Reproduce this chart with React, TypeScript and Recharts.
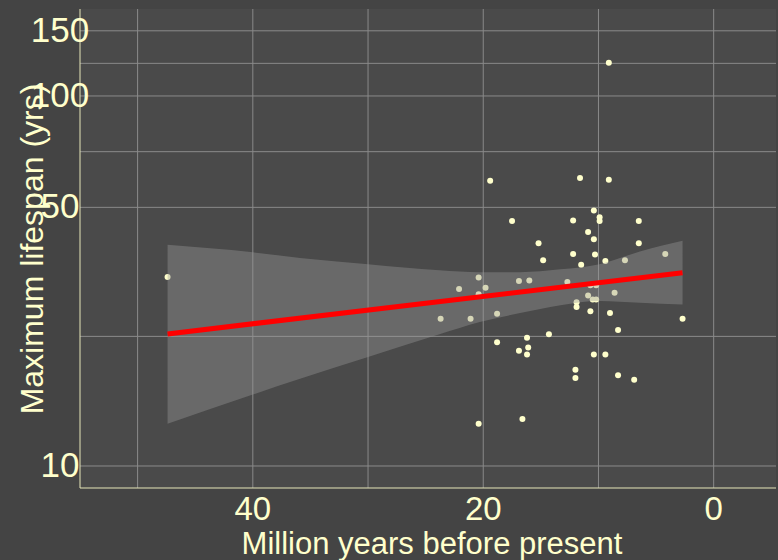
import { ComposedChart, Scatter, Area, Line, XAxis, YAxis, CartesianGrid, Label } from 'recharts'

// fossil ages (Myr before present) and max lifespan (yrs)
const ageMyr = [
  19.4, 11.6, 9.1, 17.5, 12.2, 10.4, 9.9, 9.9, 6.5, 10.9,
  10.4, 15.2, 6.5, 12.2, 10.3, 14.8, 11.5, 9.4, 7.7, 4.2,
  20.4, 22.1, 19.8, 20.4, 16.9, 16.0, 12.7, 10.7, 10.2, 10.9,
  10.5, 10.2, 8.6, 11.9, 11.9, 23.7, 21.1, 18.8, 10.7, 9.0,
  2.7, 8.3, 14.3, 18.8, 16.2, 16.1, 16.9, 16.2, 10.4, 9.4,
  12.0, 12.0, 8.3, 6.9, 20.4, 16.6, 9.1, 47.4
]
const lifespanYrs = [
  59.0, 60.0, 59.4, 45.9, 46.1, 49.0, 47.0, 45.9, 45.9, 42.9,
  41.0, 40.0, 40.0, 37.4, 37.3, 36.0, 35.0, 35.8, 36.0, 37.4,
  32.3, 30.1, 30.3, 29.1, 31.6, 31.7, 31.4, 30.8, 30.8, 28.9,
  28.2, 28.2, 29.4, 27.7, 26.9, 25.0, 25.0, 25.8, 26.2, 25.9,
  25.0, 23.3, 22.7, 21.6, 22.2, 20.9, 20.5, 20.0, 20.0, 20.0,
  18.2, 17.3, 17.6, 17.1, 13.0, 13.4, 122.9, 32.4
]

// fitted line ends
const fitX = [47.4, 2.7]
const fitY = [22.75, 33.3]

// confidence band
const bandX = [47.4, 40, 35.9, 30, 23.8, 20.3, 16.8, 13.3, 9.9, 6.4, 2.7]
const bandLow = [13.0, 15.6, 17.2, 19.7, 22.7, 24.5, 25.9, 27.2, 27.9, 27.6, 27.3]
const bandHigh = [39.6, 37.8, 36.5, 35.1, 33.8, 33.4, 33.4, 34.0, 35.1, 38.0, 40.6]

const xTicks = [40, 20, 0]
const xGrid = [50, 40, 30, 20, 10, 0]
const yTicks = [10, 50, 100, 150]
const yGrid = [10, 22.4, 50, 70.7, 100, 122.5, 150]

const points = ageMyr.map((x, i) => ({ x, y: lifespanYrs[i] }))
const fit = fitX.map((x, i) => ({ x, y: fitY[i] }))
const band = bandX.map((x, i) => ({ x, range: [bandLow[i], bandHigh[i]] }))

const TEXT = '#FFFFCC'
const FONT = '"Liberation Sans", Arial, sans-serif'

const XTick = (props: any) => {
  const { x, y, payload } = props
  return (
    <text x={x} y={y + 24} textAnchor="middle" fill={TEXT} fontSize={33} fontFamily={FONT}>
      {payload.value}
    </text>
  )
}

const YTick = (props: any) => {
  const { y, payload } = props
  return (
    <text x={60} y={y + 11} textAnchor="middle" fill={TEXT} fontSize={35} fontFamily={FONT}>
      {payload.value}
    </text>
  )
}

const Dot = (props: any) => {
  const { cx, cy } = props
  return <circle cx={cx} cy={cy} r={3} fill="#FFFFCC" />
}

export default function App() {
  return (
    <div style={{ position: 'absolute', left: 0, top: 0, width: 778, height: 560, background: '#444444' }}>
      <ComposedChart width={778} height={560} margin={{ top: 9, right: 2, left: 0, bottom: 0 }}>
        <CartesianGrid
          fill="#4a4a4a"
          stroke="#8a8a8a"
          strokeWidth={1}
          horizontalValues={yGrid}
          verticalValues={xGrid}
        />
        <XAxis
          dataKey="x"
          type="number"
          domain={[-5.41, 55.0]}
          reversed
          allowDataOverflow
          ticks={xTicks}
          tick={<XTick />}
          tickLine={false}
          stroke="#E6E6B8"
          height={72}
        >
          <Label
            content={() => (
              <text x={432} y={554} textAnchor="middle" fill={TEXT} fontSize={31} fontFamily={FONT}>
                Million years before present
              </text>
            )}
          />
        </XAxis>
        <YAxis
          dataKey="y"
          type="number"
          scale="log"
          domain={[8.72, 171.8]}
          allowDataOverflow
          ticks={yTicks}
          tick={<YTick />}
          tickLine={false}
          stroke="#E6E6B8"
          width={80}
        >
          <Label
            content={() => (
              <text
                transform="translate(43,249) rotate(-90)"
                textAnchor="middle"
                fill={TEXT}
                fontSize={32}
                fontFamily={FONT}
              >
                Maximum lifespan (yrs)
              </text>
            )}
          />
        </YAxis>
        <Scatter data={points} fill="#FFFFCC" shape={<Dot />} zIndex={50} isAnimationActive={false} />
        <Area
          data={band}
          dataKey="range"
          type="monotone"
          fill="#999999"
          fillOpacity={0.4}
          stroke="none"
          zIndex={100}
          isAnimationActive={false}
        />
        <Line
          data={fit}
          dataKey="y"
          type="linear"
          stroke="#FF0000"
          strokeWidth={5}
          dot={false}
          zIndex={400}
          isAnimationActive={false}
        />
      </ComposedChart>
    </div>
  )
}
